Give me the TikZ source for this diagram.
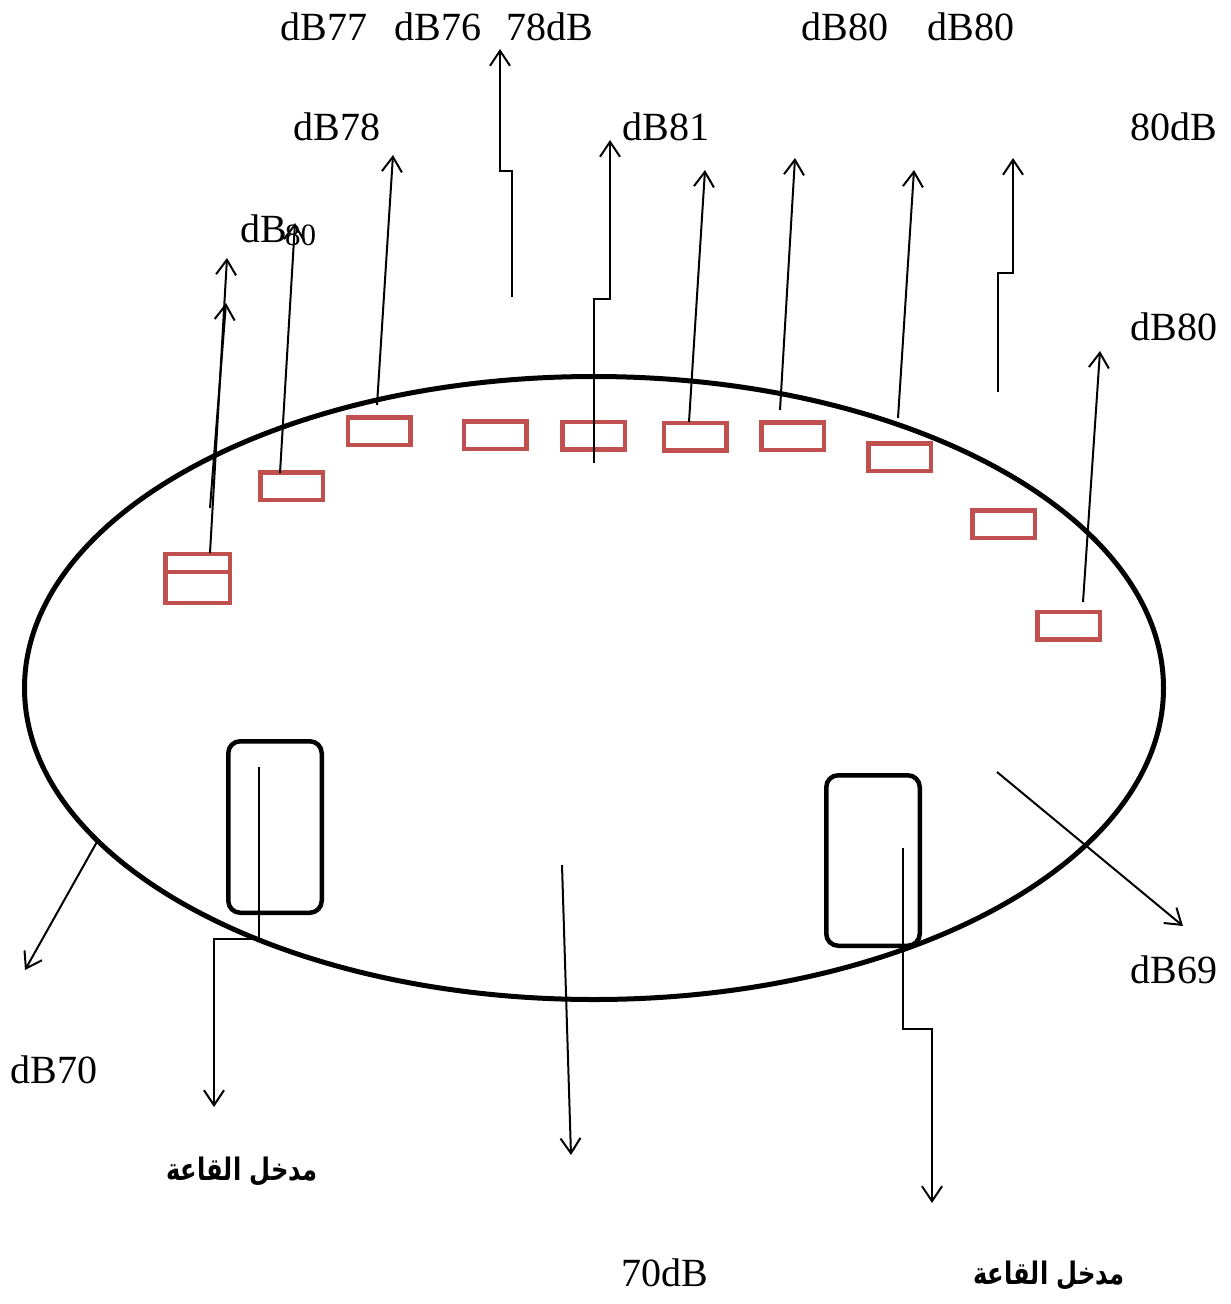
\documentclass[tikz,border=0pt]{standalone}
\usepackage{fontspec}
\setmainfont{Liberation Serif}
\newfontfamily\arabicfont[Script=Arabic]{DejaVu Sans}
\TeXXeTstate=1
\usetikzlibrary{arrows.meta,shapes.geometric}
\definecolor{seatred}{HTML}{C0504D}
\tikzset{
  seat/.style={draw=seatred, line width=4.5pt, minimum width=62.5pt, minimum height=27.5pt, inner sep=0pt},
  door/.style={draw=black, line width=4.5pt, rounded corners=12pt, minimum width=93.5pt, minimum height=171.5pt, inner sep=0pt},
  ray/.style={line width=2pt, -{Straight Barb[length=15pt,width=20pt,line width=2pt]}},
  lvl/.style={inner sep=0pt, font=\fontsize{40}{44}\selectfont},
  entry/.style={inner sep=0pt, font=\arabicfont\bfseries\fontsize{31}{34}\selectfont}
}
\begin{document}
\begin{tikzpicture}[x=1pt,y=-1pt]
\useasboundingbox (0,0) rectangle (1231,1304);

% hall outline
\node[draw, line width=5pt, ellipse, minimum width=1139pt, minimum height=623pt, inner sep=0pt] (hall) at (594,688) {};

% loudspeakers along the upper wall
\node[seat, minimum width=64.5pt, minimum height=18pt] (r1a) at (197.5,563) {};
\node[seat, minimum width=64.5pt, minimum height=31pt] (r1b) at (197.5,587.5) {};
\node[seat] (r2) at (291.5,486) {};
\node[seat] (r3) at (379,431) {};
\node[seat] (r4) at (495,435) {};
\node[seat] (r5) at (593.5,435.5) {};
\node[seat] (r6) at (695,436.5) {};
\node[seat] (r7) at (792.5,436) {};
\node[seat] (r8) at (899.5,457) {};
\node[seat] (r9) at (1003.5,524) {};
\node[seat] (r10) at (1068.5,625.5) {};

% entrances
\node[door] (d1) at (275,827) {};
\node[door, minimum height=170.5pt] (d2) at (873,860.5) {};

% ray end points
\coordinate (s1a) at (210,553);  \coordinate (e1a) at (227,258);
\coordinate (s1b) at (210,508);  \coordinate (e1b) at (226,303);
\coordinate (s2) at (280,473);   \coordinate (e2) at (295,223);
\coordinate (s3) at (377,405);   \coordinate (e3) at (393,155);
\coordinate (s4) at (512,297);   \coordinate (k4) at (512,171); \coordinate (e4) at (500,49);
\coordinate (s5) at (594,463);   \coordinate (k5) at (594,299); \coordinate (e5) at (610,140);
\coordinate (s6) at (689,422);   \coordinate (e6) at (705,170);
\coordinate (s7) at (780,410);   \coordinate (e7) at (795,158);
\coordinate (s8) at (898,418);   \coordinate (e8) at (914,170);
\coordinate (s9) at (997.5,392); \coordinate (k9) at (997.5,273); \coordinate (e9) at (1013,158);
\coordinate (s10) at (1083,602); \coordinate (e10) at (1100,351);
\coordinate (b1s) at (98,840);   \coordinate (b1e) at (25,970);
\coordinate (b2s) at (259,767);  \coordinate (b2k) at (259,939); \coordinate (b2e) at (214,1107);
\coordinate (b3s) at (562,865);  \coordinate (b3e) at (571,1155);
\coordinate (b4s) at (903,848);  \coordinate (b4k) at (903,1029); \coordinate (b4e) at (932,1203);
\coordinate (b5s) at (997,772);  \coordinate (b5e) at (1183,926);

% rays
\draw[ray] (s1a) -- (e1a);
\draw[ray] (s1b) -- (e1b);
\draw[ray] (s2) -- (e2);
\draw[ray] (s3) -- (e3);
\draw[ray] (s4) -- (k4) -| (e4);
\draw[ray] (s5) -- (k5) -| (e5);
\draw[ray] (s6) -- (e6);
\draw[ray] (s7) -- (e7);
\draw[ray] (s8) -- (e8);
\draw[ray] (s9) -- (k9) -| (e9);
\draw[ray] (s10) -- (e10);
\draw[ray] (b1s) -- (b1e);
\draw[ray] (b2s) -- (b2k) -| (b2e);
\draw[ray] (b3s) -- (b3e);
\draw[ray] (b4s) -- (b4k) -| (b4e);
\draw[ray] (b5s) -- (b5e);

% sound levels
\node[lvl] (t1) at (324,27) {dB77};
\node[lvl] (t2) at (438,27) {dB76};
\node[lvl] (t3) at (550,27) {78dB};
\node[lvl] (t4) at (845,27) {dB80};
\node[lvl] (t5) at (971,27) {dB80};
\node[lvl] (t6) at (337,127) {dB78};
\node[lvl] (t7) at (666,127) {dB81};
\node[lvl] (t8) at (1174,127) {80dB};
\node[lvl] (t9) at (1174,327) {dB80};
\node[lvl] (t10) at (1174,970) {dB69};
\node[lvl] (t11) at (54,1070) {dB70};
\node[lvl] (t12) at (665,1273) {70dB};
\node[lvl, anchor=base west] (t13) at (240,242) {dB};
\node[inner sep=0pt, anchor=base west, font=\fontsize{31}{33}\selectfont] (t14) at (285,245) {80};

% entrance labels
\node[entry] (n1) at (242,1172) {\scalebox{0.78}[1]{\beginR مدخل القاعة\endR}};
\node[entry] (n2) at (1049,1276) {\scalebox{0.78}[1]{\beginR مدخل القاعة\endR}};
\end{tikzpicture}
\end{document}
